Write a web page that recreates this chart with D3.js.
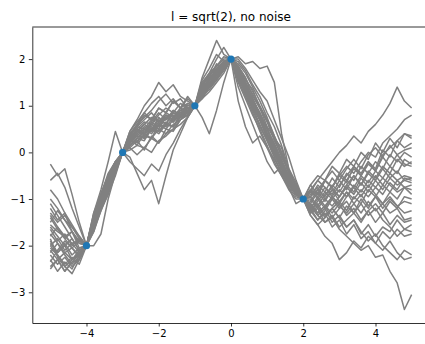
<!DOCTYPE html>
<html>
<head>
<meta charset="utf-8">
<script src="https://cdn.jsdelivr.net/npm/d3@7"></script>
<style>
  body { margin: 0; background: #fff; }
  svg { display: block; font-family: "DejaVu Sans", sans-serif; }
</style>
</head>
<body>
<div id="chart"></div>
<script>
// x grid of the sampled functions: -5 .. 5, step 0.2
const xGrid = d3.range(51).map(i => -5 + i * 0.2);

// observed training points
const trainX = [-4, -3, -1, 0, 2];
const trainY = [-2, 0, 1, 2, -1];

// posterior samples (51 values each)
const samples = [
  [-0.25,-0.5,-0.35,-0.9,-1.5,-2, -1.7,-1.2,-0.9,-0.3,0, 0.35,0.2,0.5,0.45,0.75,0.6,0.9,0.8,1.05,1, 1.45,1.6,1.9,1.8,2, 1.8,1.55,1.35,0.95,0.7,0.3,0.1,-0.45,-0.7,-1, -0.85,-0.95,-0.6,-0.75,-0.5,-0.65,-0.3,-0.45,-0.2,-0.35,0.05,-0.1,0.25,0.1,0.2],
  [-2.45,-2.3,-2.55,-2.35,-2.2,-2, -1.35,-1.0,-0.5,-0.3,0, 0.1,0.25,0.05,0.35,0.2,0.5,0.45,0.7,0.8,1, 1.15,1.4,1.55,1.8,2, 1.85,1.6,1.2,0.95,0.55,0.3,-0.1,-0.4,-0.75,-1, -1.15,-1.35,-1.2,-1.5,-1.35,-1.6,-1.45,-1.75,-1.55,-1.8,-1.6,-1.7,-1.45,-1.65,-1.55],
  [-1.2,-1.45,-1.3,-1.7,-1.9,-2, -1.3,-0.8,-0.2,0.45,0, 0.4,0.55,0.8,0.7,0.95,0.85,1.1,0.95,1.15,1, 1.5,1.7,1.85,2.05,2, 1.6,1.3,0.95,0.7,0.3,0.0,-0.35,-0.6,-0.9,-1, -0.8,-0.9,-0.6,-0.75,-0.45,-0.6,-0.35,-0.5,-0.2,-0.4,-0.1,-0.3,-0.05,-0.25,-0.3],
  [-1.9,-2.15,-2.0,-2.3,-2.15,-2, -1.6,-1.1,-0.75,-0.4,0, -0.1,-0.45,-0.8,-0.6,-1.1,-0.5,0.05,0.4,0.75,1, 1.2,1.45,1.7,1.85,2, 1.8,1.5,1.15,0.85,0.5,0.15,-0.3,-0.6,-0.85,-1, -1.25,-1.45,-1.3,-1.6,-1.45,-1.75,-1.55,-1.85,-1.7,-1.95,-2.1,-1.9,-2.15,-2.3,-2.25],
  [-1.0,-1.2,-1.45,-1.7,-1.95,-2, -1.45,-0.95,-0.6,-0.25,0, 0.45,0.7,1.0,1.2,1.5,1.3,1.45,1.2,1.1,1, 1.55,1.8,2.1,1.95,2, 1.9,1.7,1.4,1.1,0.75,0.35,0.0,-0.45,-0.7,-1, -0.7,-0.5,-0.6,-0.3,-0.45,-0.15,-0.3,0.0,-0.15,0.2,0.0,0.3,0.1,0.4,0.3],
  [-1.8,-1.6,-1.85,-1.7,-2.05,-2, -1.55,-1.2,-0.8,-0.45,0, 0.3,0.45,0.35,0.6,0.5,0.75,0.65,0.85,0.95,1, 1.6,2.0,2.4,2.1,2, 1.6,1.35,1.0,0.8,0.4,0.15,-0.2,-0.55,-0.8,-1, -1.1,-0.85,-1.05,-0.8,-0.95,-0.7,-0.85,-0.55,-0.75,-0.5,-0.7,-0.45,-0.6,-0.5,-0.55],
  [-2.2,-2.4,-2.25,-2.45,-2.3,-2, -1.45,-1.0,-0.6,-0.25,0, 0.2,0.4,0.3,0.55,0.45,0.65,0.55,0.8,0.9,1, 0.75,0.4,0.9,1.5,2, 1.7,1.4,1.05,0.75,0.35,0.05,-0.3,-0.6,-0.85,-1, -1.25,-1.1,-1.35,-1.2,-1.4,-1.15,-1.3,-1.0,-1.2,-0.95,-1.1,-0.85,-1.0,-0.75,-0.9],
  [-1.4,-1.65,-1.85,-2.05,-2.2,-2, -1.7,-1.25,-0.85,-0.4,0, 0.15,0.3,0.25,0.5,0.4,0.6,0.55,0.8,0.85,1, 1.35,1.6,1.75,1.95,2, 2.05,1.9,1.95,1.8,1.85,1.5,0.4,-0.35,-0.75,-1, -0.8,-1.0,-0.75,-0.9,-0.6,-0.8,-0.5,-0.7,-0.4,-0.55,-0.3,-0.45,-0.15,-0.3,-0.2],
  [-2.0,-1.85,-2.1,-1.95,-2.15,-2, -1.5,-1.05,-0.7,-0.3,0, 0.25,0.45,0.6,0.75,0.65,0.85,0.75,0.95,0.85,1, 1.3,1.45,1.75,1.9,2, 1.1,0.55,0.2,0.35,0.1,-0.15,-0.4,-0.7,-0.9,-1, -1.2,-0.95,-1.15,-1.3,-1.1,-1.35,-1.2,-1.45,-1.25,-1.5,-1.3,-1.55,-1.35,-1.5,-1.45],
  [-1.55,-1.7,-1.8,-1.95,-1.9,-2, -1.6,-1.1,-0.7,-0.35,0, 0.3,0.45,0.4,0.6,0.55,0.75,0.85,0.8,0.95,1, 1.35,1.55,1.7,1.85,2, 1.7,1.4,1.05,0.75,0.4,0.1,-0.3,-0.55,-0.8,-1, -0.8,-0.6,-0.4,-0.2,0.0,0.15,0.35,0.2,0.45,0.6,0.8,1.05,1.4,1.1,0.95],
  [-2.3,-2.55,-2.35,-2.5,-2.2,-2, -1.55,-1.1,-0.75,-0.4,0, 0.2,0.35,0.5,0.4,0.6,0.5,0.7,0.75,0.85,1, 1.2,1.45,1.6,1.8,2, 1.75,1.4,1.1,0.8,0.4,0.05,-0.3,-0.6,-0.85,-1, -1.3,-1.2,-1.5,-1.4,-1.65,-1.8,-1.95,-2.1,-2.0,-2.25,-2.2,-2.55,-2.8,-3.37,-3.05],
  [-1.65,-1.9,-1.75,-2.0,-1.85,-2, -1.4,-0.95,-0.65,-0.3,0, 0.3,0.5,0.4,0.65,0.55,0.75,0.7,0.9,0.95,1, 1.25,1.5,1.65,1.85,2, 1.65,1.35,1.0,0.7,0.35,0.0,-0.35,-0.65,-0.9,-1, -1.35,-1.55,-1.8,-1.95,-2.3,-2.15,-1.9,-2.05,-1.8,-1.95,-1.7,-1.85,-1.65,-1.8,-1.75],
  [-0.8,-1.0,-1.3,-1.55,-1.8,-2, -1.35,-0.9,-0.5,-0.2,0, 0.45,0.65,0.85,1.05,1.2,1.0,1.15,0.95,1.2,1, 1.45,1.7,2.0,2.25,2, 1.95,1.75,1.45,1.2,0.85,0.55,0.15,-0.35,-0.65,-1, -0.95,-0.7,-0.85,-0.55,-0.75,-0.45,-0.6,-0.3,-0.45,-0.2,-0.35,-0.05,-0.2,0.0,-0.1],
  [-2.05,-2.2,-2.4,-2.25,-2.4,-2, -1.65,-1.25,-0.9,-0.5,0, 0.05,0.15,0.1,0.3,0.2,0.4,0.5,0.6,0.75,1, 1.15,1.3,1.5,1.7,2, 1.5,1.15,0.8,0.5,0.15,-0.2,-0.5,-0.75,-0.95,-1, -1.25,-1.05,-0.85,-1.0,-0.8,-0.95,-0.7,-0.85,-0.6,-0.75,-0.55,-0.7,-0.85,-0.75,-0.8],
  [-1.3,-1.5,-1.35,-1.6,-1.8,-2, -1.5,-1.05,-0.6,-0.3,0, 0.35,0.6,0.75,0.9,1.1,1.25,1.05,1.15,0.95,1, 1.4,1.55,1.8,1.95,2, 1.8,1.5,1.25,0.95,0.65,0.25,-0.05,-0.45,-0.75,-1, -1.1,-1.3,-1.15,-1.4,-1.2,-1.05,-1.3,-1.1,-1.35,-1.2,-1.45,-1.6,-1.8,-1.65,-1.7],
  [-2.5,-2.3,-2.55,-2.35,-2.3,-2, -1.3,-0.9,-0.45,-0.2,0, 0.3,0.15,0.4,0.3,0.6,0.75,0.65,0.8,0.9,1, 1.3,1.6,1.75,1.9,2, 1.6,1.25,0.9,0.55,0.25,-0.1,-0.45,-0.7,-0.9,-1, -0.95,-1.15,-0.9,-0.75,-0.95,-0.7,-0.5,-0.7,-0.45,-0.6,-0.35,-0.55,-0.4,-0.6,-0.55],
  [-1.75,-1.95,-2.15,-2.3,-2.2,-2, -2.0,-1.75,-1.0,-0.45,0, 0.2,0.35,0.3,0.5,0.45,0.6,0.55,0.75,0.8,1, 1.2,1.4,1.6,1.8,2, 1.75,1.45,1.15,0.8,0.5,0.1,-0.2,-0.55,-0.8,-1, -0.9,-0.75,-1.0,-0.8,-1.05,-0.85,-1.1,-0.9,-1.15,-0.95,-1.2,-1.0,-1.15,-1.05,-1.1],
  [-1.1,-1.35,-1.6,-1.85,-2.1,-2, -1.35,-0.9,-0.55,-0.2,0, 0.15,0.25,0.35,0.3,0.5,0.4,0.6,0.7,0.8,1, 1.45,1.65,1.85,2.0,2, 1.85,1.6,1.3,1.0,0.7,0.35,0.0,-0.4,-0.7,-1, -1.05,-0.8,-0.6,-0.75,-0.5,-0.3,-0.45,-0.2,0.0,-0.1,0.2,0.35,0.5,0.7,0.8],
  [-2.35,-2.1,-1.9,-2.05,-1.9,-2, -1.6,-1.15,-0.8,-0.4,0, 0.1,-0.05,0.1,0.0,0.25,0.35,0.5,0.7,0.85,1, 1.3,1.55,1.7,1.9,2, 1.7,1.35,1.05,0.7,0.4,0.05,-0.3,-0.6,-0.85,-1, -1.15,-1.35,-1.5,-1.35,-1.6,-1.45,-1.3,-1.5,-1.25,-1.1,-1.3,-1.05,-1.2,-0.95,-1.0],
  [-1.5,-1.25,-1.45,-1.6,-1.85,-2, -1.45,-1.0,-0.55,-0.3,0, 0.4,0.6,0.85,0.7,0.95,0.85,1.1,0.95,1.05,1, 1.3,1.45,1.65,1.8,2, 1.75,1.4,1.1,0.7,0.35,0.0,-0.35,-0.6,-0.85,-1, -0.85,-0.6,-0.75,-0.95,-0.7,-0.5,-0.3,-0.5,-0.25,-0.4,-0.05,0.1,0.25,0.4,0.35],
  [-1.85,-2.25,-2.45,-2.6,-2.3,-2, -1.5,-1.05,-0.65,-0.3,0, 0.25,0.45,0.6,0.5,0.7,0.6,0.85,0.75,0.9,1, 1.25,1.4,1.7,1.85,2, 1.65,1.35,1.0,0.7,0.3,-0.05,-0.35,-0.7,-0.9,-1, -1.35,-1.55,-1.4,-1.2,-1.4,-1.6,-1.45,-1.7,-1.9,-1.75,-2.0,-2.15,-2.3,-2.1,-2.2],
  [-2.15,-1.95,-2.2,-2.4,-2.25,-2, -1.55,-1.1,-0.7,-0.35,0, 0.35,0.55,0.7,0.85,0.65,0.8,0.7,0.9,0.85,1, 1.35,1.55,1.7,1.9,2, 1.8,1.45,1.15,0.8,0.5,0.15,-0.25,-0.55,-0.8,-1, -1.0,-1.2,-1.0,-1.15,-0.95,-0.75,-0.9,-0.65,-0.85,-0.6,-0.8,-0.55,-0.7,-0.6,-0.65],
  [-0.6,-0.45,-0.75,-1.2,-1.6,-2, -1.4,-0.9,-0.5,-0.2,0, 0.3,0.5,0.65,0.6,0.8,0.95,0.85,1.05,0.95,1, 1.3,1.55,1.75,1.9,2, 1.7,1.4,1.05,0.75,0.4,0.05,-0.3,-0.6,-0.85,-1, -0.7,-0.9,-0.6,-0.4,-0.6,-0.35,-0.15,-0.35,-0.05,0.1,-0.1,0.15,-0.05,0.05,0.1],
  [-1.95,-2.15,-1.95,-2.2,-2.05,-2, -1.6,-1.15,-0.75,-0.4,0, 0.2,0.4,0.5,0.45,0.6,0.55,0.75,0.85,0.9,1, 1.25,1.5,1.65,1.8,2, 1.65,1.3,0.95,0.6,0.25,-0.1,-0.45,-0.7,-0.9,-1, -1.2,-1.0,-1.2,-0.95,-1.15,-1.3,-1.1,-1.3,-1.05,-1.25,-1.1,-1.3,-1.2,-1.45,-1.4],
  [-1.6,-1.8,-2.0,-1.85,-2.1,-2, -1.45,-1.05,-0.6,-0.3,0, -0.2,-0.35,-0.5,-0.25,-0.4,-0.05,0.2,0.5,0.75,1, 1.2,1.35,1.55,1.75,2, 1.55,1.2,0.85,0.45,0.1,-0.25,-0.5,-0.8,-1.0,-1, -1.3,-1.15,-1.4,-1.2,-1.05,-1.25,-0.95,-1.1,-0.8,-0.95,-0.7,-0.85,-0.6,-0.75,-0.7],
  [-2.1,-2.3,-2.15,-2.05,-2.25,-2, -1.5,-1.0,-0.6,-0.25,0, 0.25,0.4,0.55,0.45,0.65,0.7,0.8,0.75,0.9,1, 1.25,1.45,1.6,1.8,2, 1.4,1.0,0.6,0.2,-0.2,-0.45,-0.3,-0.75,-1.1,-1, -1.2,-1.45,-1.25,-1.0,-1.2,-0.95,-0.75,-0.95,-0.7,-0.9,-1.1,-0.95,-1.15,-1.3,-1.25],
  [-1.35,-1.6,-1.8,-1.7,-1.95,-2, -1.4,-0.95,-0.55,-0.25,0, 0.35,0.55,0.5,0.7,0.6,0.8,0.75,0.9,1.0,1, 1.4,1.65,1.8,1.95,2, 2.0,1.8,1.55,1.3,1.1,0.7,0.3,-0.1,-0.6,-1, -0.95,-0.8,-0.95,-0.7,-0.85,-0.6,-0.75,-0.5,-0.65,-0.4,-0.55,-0.3,-0.45,-0.15,-0.25],
  [-2.0,-2.2,-2.45,-2.3,-2.1,-2, -1.55,-1.15,-0.7,-0.3,0, 0.15,0.3,0.45,0.65,0.85,0.7,0.9,0.8,0.95,1, 1.35,1.55,1.8,1.95,2, 1.7,1.4,1.1,0.85,0.5,0.2,-0.15,-0.5,-0.8,-1, -1.1,-1.3,-1.15,-0.95,-1.1,-0.85,-1.0,-0.8,-0.95,-0.75,-0.9,-0.65,-0.8,-0.55,-0.6]
];

const xTicks = [-4, -2, 0, 2, 4];
const yTicks = [-3, -2, -1, 0, 1, 2];
const title = "l = sqrt(2), no noise";

const width = 425, height = 344;
const margin = {left: 32.3, top: 27, right: 429.7, bottom: 323};

const svg = d3.select("#chart").append("svg")
  .attr("width", width)
  .attr("height", height);

// matplotlib-like 5% margins
const xMin = d3.min(xGrid), xMax = d3.max(xGrid);
const xPad = (xMax - xMin) * 0.05;
const allY = samples.flat().concat(trainY);
const yMin = d3.min(allY), yMax = d3.max(allY);
const yPad = (yMax - yMin) * 0.05;

const x = d3.scaleLinear([xMin - xPad, xMax + xPad], [margin.left, margin.right]);
const y = d3.scaleLinear([yMin - yPad, yMax + yPad], [margin.bottom, margin.top]);

const line = d3.line()
  .x((d, i) => x(xGrid[i]))
  .y(d => y(d));

svg.append("g")
  .attr("fill", "none")
  .attr("stroke", "#808080")
  .attr("stroke-width", 1.5)
  .attr("stroke-linejoin", "round")
  .selectAll("path")
  .data(samples)
  .join("path")
  .attr("d", line);

svg.append("g")
  .attr("fill", "#1f77b4")
  .selectAll("circle")
  .data(trainX)
  .join("circle")
  .attr("cx", d => x(d))
  .attr("cy", (d, i) => y(trainY[i]))
  .attr("r", 3.6);

const fmt = d => d < 0 ? "\u2212" + Math.abs(d) : String(d);

const xAxis = svg.append("g")
  .attr("transform", `translate(0,${margin.bottom})`)
  .call(d3.axisBottom(x).tickValues(xTicks).tickFormat(fmt).tickSize(3.5).tickPadding(3.5).tickSizeOuter(0));

const yAxis = svg.append("g")
  .attr("transform", `translate(${margin.left},0)`)
  .call(d3.axisLeft(y).tickValues(yTicks).tickFormat(fmt).tickSize(3.5).tickPadding(3.5).tickSizeOuter(0));

[xAxis, yAxis].forEach(g => {
  g.selectAll("path.domain").attr("stroke", "#000").attr("stroke-width", 0.8);
  g.selectAll(".tick line").attr("stroke", "#000").attr("stroke-width", 0.8);
  g.selectAll(".tick text")
    .attr("fill", "#000")
    .attr("font-size", 10)
    .attr("font-family", "DejaVu Sans, sans-serif");
});

// top spine
svg.append("line")
  .attr("x1", margin.left).attr("x2", margin.right)
  .attr("y1", margin.top).attr("y2", margin.top)
  .attr("stroke", "#000").attr("stroke-width", 0.8);

svg.append("text")
  .attr("x", (margin.left + margin.right) / 2)
  .attr("y", margin.top - 6)
  .attr("text-anchor", "middle")
  .attr("font-size", 12)
  .attr("fill", "#000")
  .text(title);
</script>
</body>
</html>
